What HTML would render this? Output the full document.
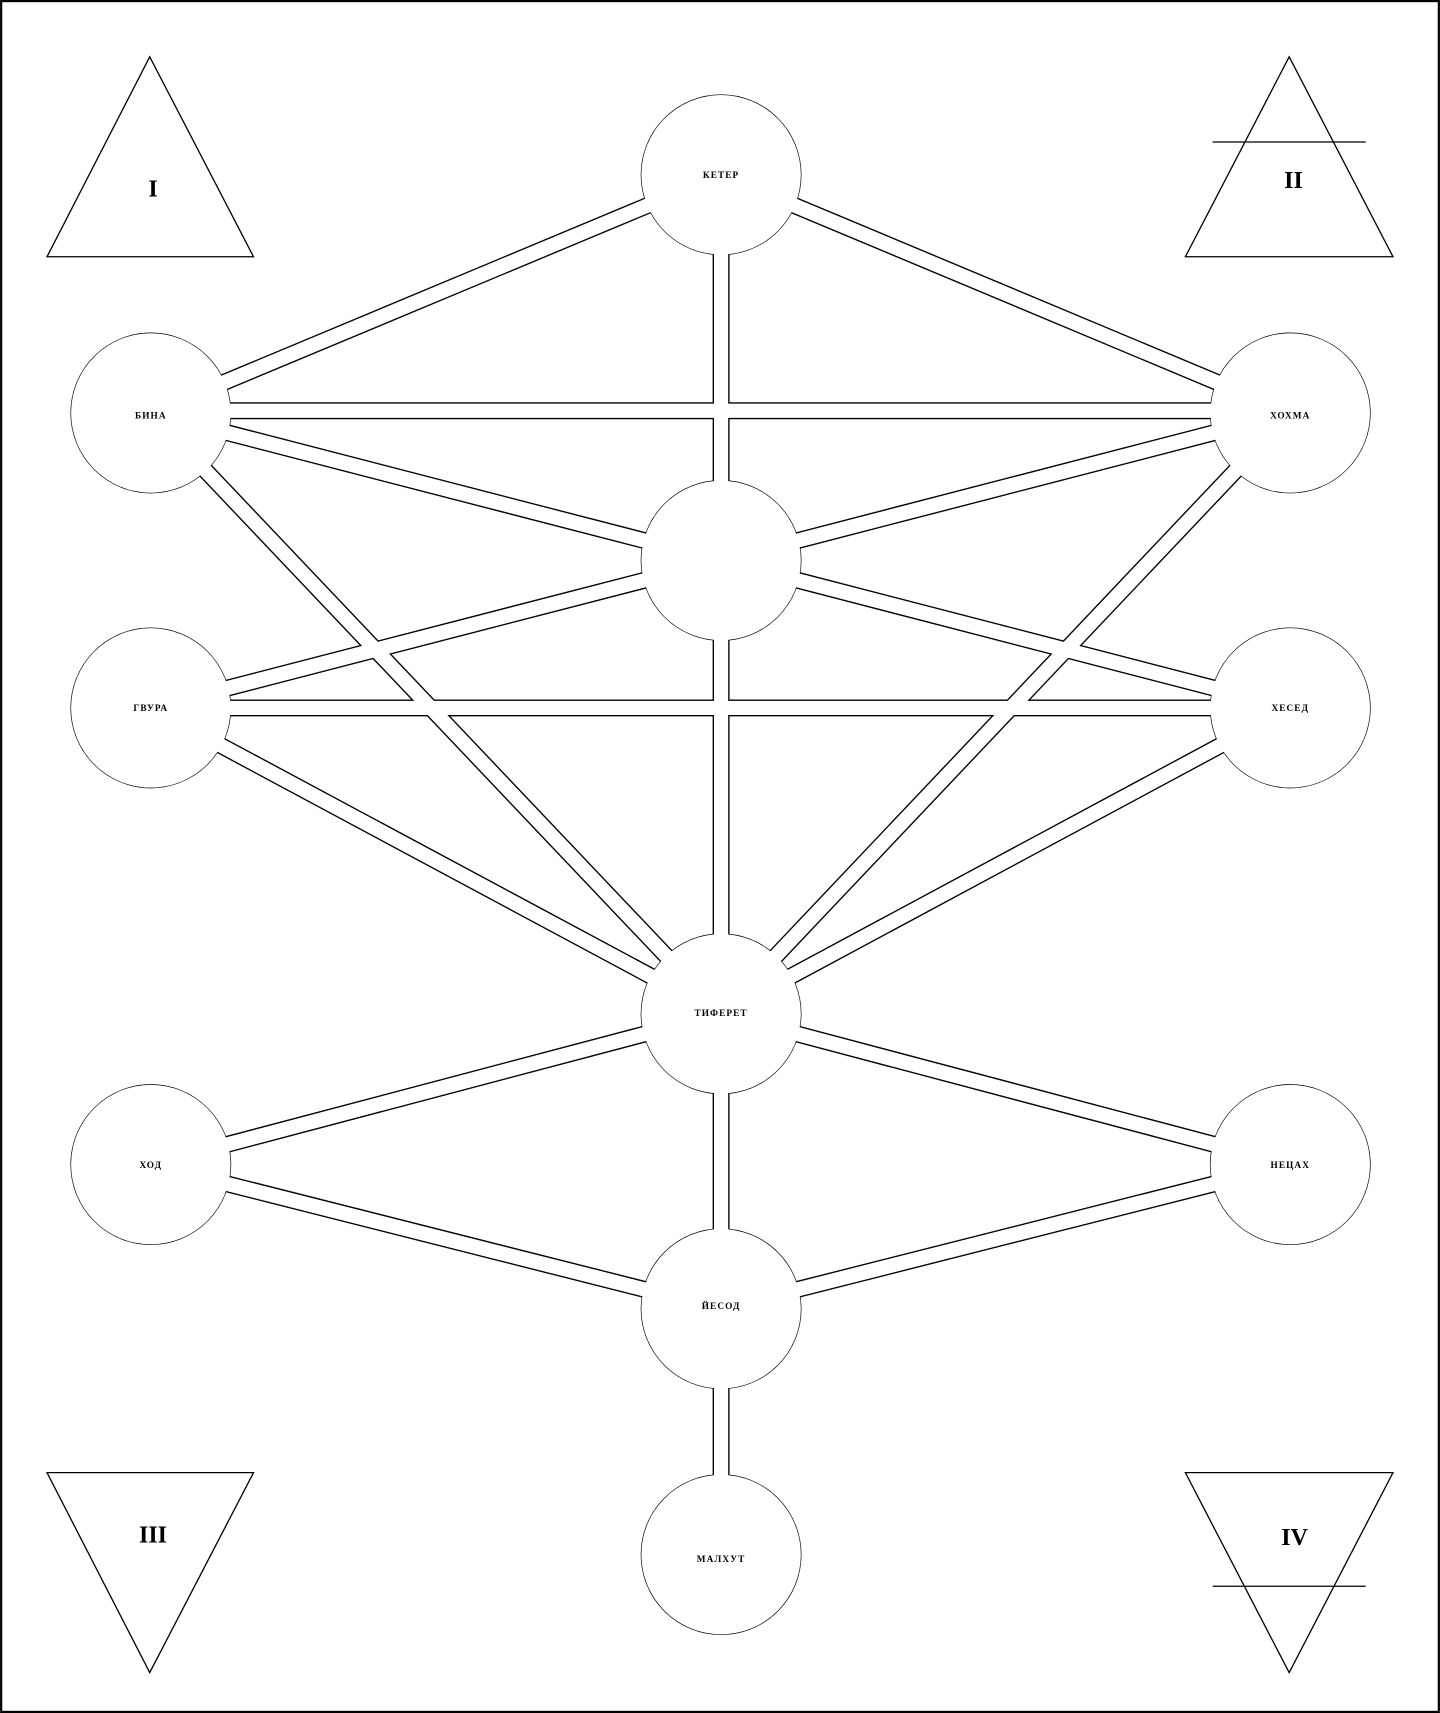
<!DOCTYPE html>
<html><head><meta charset="utf-8"><style>html,body{margin:0;padding:0;background:#fff}svg{display:block}</style></head>
<body>
<svg width="1440" height="1713" viewBox="0 0 1318 1568" xmlns="http://www.w3.org/2000/svg">
<rect x="1" y="1" width="1316" height="1566" fill="#fff" stroke="#000" stroke-width="2"/>
<g fill="none" stroke="#000" stroke-width="1.2">
<polygon points="137,52 43,235 232,235"/>
<polygon points="1180,52 1085,235 1275,235"/>
<line x1="1110" y1="130" x2="1250" y2="130"/>
<polygon points="43,1348 232,1348 137,1531"/>
<polygon points="1085,1348 1275,1348 1180,1531"/>
<line x1="1110" y1="1452" x2="1250" y2="1452"/>
</g>
<g font-family="Liberation Serif, serif" font-size="22" font-weight="bold" text-anchor="middle" fill="#000">
<text x="140" y="180">I</text>
<text x="1184" y="172">II</text>
<text x="140" y="1412">III</text>
<text x="1185" y="1414">IV</text>
</g>
<defs>
<g id="paths">
<line x1="660" y1="160" x2="138" y2="378"/>
<line x1="660" y1="160" x2="1181" y2="378"/>
<line x1="660" y1="160" x2="660" y2="928"/>
<line x1="138" y1="376" x2="1181" y2="376"/>
<line x1="138" y1="378" x2="660" y2="513"/>
<line x1="1181" y1="378" x2="660" y2="513"/>
<line x1="138" y1="378" x2="660" y2="928"/>
<line x1="1181" y1="378" x2="660" y2="928"/>
<line x1="138" y1="648" x2="660" y2="513"/>
<line x1="1181" y1="648" x2="660" y2="513"/>
<line x1="138" y1="648" x2="1181" y2="648"/>
<line x1="138" y1="648" x2="660" y2="928"/>
<line x1="1181" y1="648" x2="660" y2="928"/>
<line x1="660" y1="928" x2="138" y2="1066"/>
<line x1="660" y1="928" x2="1181" y2="1066"/>
<line x1="138" y1="1066" x2="660" y2="1198"/>
<line x1="1181" y1="1066" x2="660" y2="1198"/>
<line x1="660" y1="928" x2="660" y2="1423"/>
</g>
<g id="circ">
<circle cx="660" cy="160" r="73"/>
<circle cx="138" cy="378" r="73"/>
<circle cx="1181" cy="378" r="73"/>
<circle cx="660" cy="513" r="73"/>
<circle cx="138" cy="648" r="73"/>
<circle cx="1181" cy="648" r="73"/>
<circle cx="660" cy="928" r="73"/>
<circle cx="138" cy="1066" r="73"/>
<circle cx="1181" cy="1066" r="73"/>
<circle cx="660" cy="1198" r="73"/>
<circle cx="660" cy="1423" r="73"/>
</g>
</defs>
<use href="#circ" fill="#000" stroke="#000" stroke-width="1.2"/>
<use href="#paths" stroke="#000" stroke-width="15.5"/>
<use href="#circ" fill="#fff" stroke="none"/>
<use href="#paths" stroke="#fff" stroke-width="13"/>
<g font-family="Liberation Serif, serif" font-size="8.5" font-weight="bold" letter-spacing="1" text-anchor="middle" fill="#000">
<text x="660" y="163">КЕТЕР</text>
<text x="138" y="383">БИНА</text>
<text x="1181" y="383">ХОХМА</text>
<text x="138" y="651">ГВУРА</text>
<text x="1181" y="651">ХЕСЕД</text>
<text x="660" y="930">ТИФЕРЕТ</text>
<text x="138" y="1069">ХОД</text>
<text x="1181" y="1069">НЕЦАХ</text>
<text x="660" y="1198">ЙЕСОД</text>
<text x="660" y="1430">МАЛХУТ</text>
</g>
</svg>
</body></html>
